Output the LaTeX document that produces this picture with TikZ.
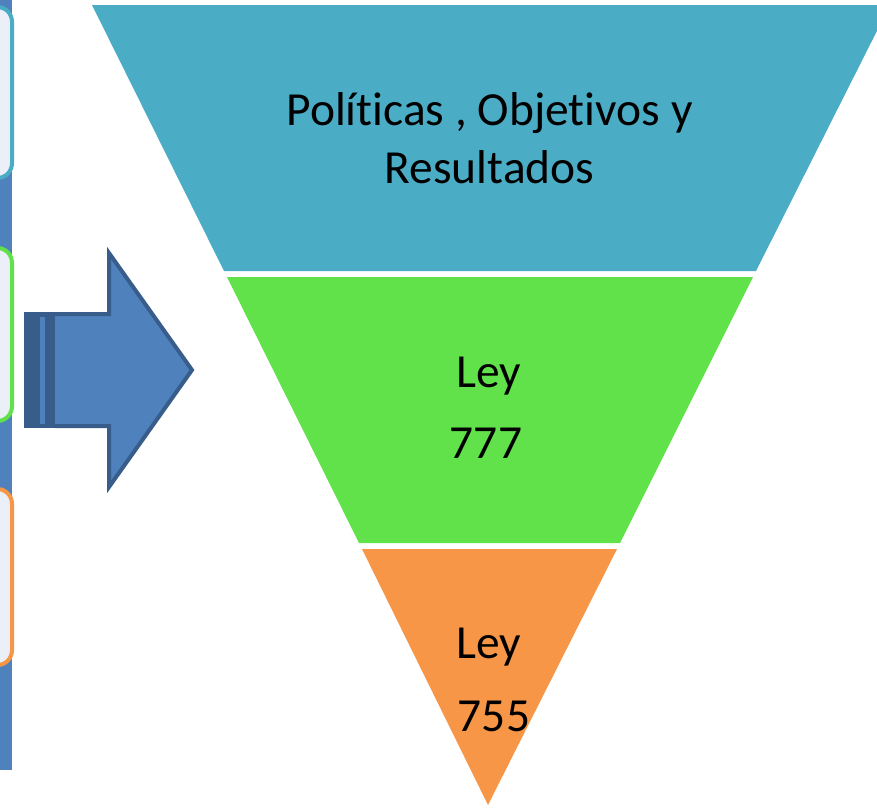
\documentclass[tikz,border=0pt]{standalone}
\usepackage{fontspec}
\setmainfont[Ligatures={NoCommon,NoRare}]{Carlito}
\definecolor{tealf}{HTML}{4BACC6}
\definecolor{greenf}{HTML}{61E24B}
\definecolor{orangef}{HTML}{F79646}
\definecolor{bluef}{HTML}{4F81BD}
\definecolor{bluedark}{HTML}{385D8A}
\definecolor{boxfill}{HTML}{EBF0F8}
\tikzset{
  lbl/.style={anchor=base,inner sep=0pt,font=\fontsize{35.6}{42}\selectfont,text=black},
  sidebox/.style={fill=boxfill,line width=3pt,rounded corners=11pt},
}
\begin{document}
\begin{tikzpicture}[x=0.75pt,y=-0.75pt]
\useasboundingbox (0,0) rectangle (877,807);
\begin{scope}
\clip (0,0) rectangle (877,807);
% left bar and boxes
\fill[bluef] (0,0) rectangle (12,770);
\draw[sidebox,draw=tealf] (-60,7) rectangle (12,178);
\draw[sidebox,draw=greenf] (-60,248) rectangle (12,421);
\draw[sidebox,draw=orangef] (-60,489) rectangle (12,665);
% striped arrow
\fill[bluedark] (24,312) rectangle (55,428);
\fill[bluef] (40,317) rectangle (45,424);
\draw[fill=bluef,draw=bluedark,line width=3pt,line join=miter]
  (55,314) -- (109,314) -- (109,253) -- (192,370) -- (109,487) -- (109,426) -- (55,426);
% funnel
\fill[tealf] (92,5) -- (890,5) -- (756,271) -- (224,271) -- cycle;
\fill[greenf] (227,277) -- (753,277) -- (620,543) -- (359,543) -- cycle;
\fill[orangef] (362,549) -- (617,549) -- (488,805) -- cycle;
\end{scope}
\node[lbl] (t1) at (489.5,125) {Políticas , Objetivos y};
\node[lbl] (t2) at (489.5,183) {Resultados};
\node[lbl] (g1) at (489,387) {Ley};
\node[lbl] (g2) at (486,458) {777};
\node[lbl] (o1) at (489,658) {Ley};
\node[lbl] (o2) at (494,731) {755};
\end{tikzpicture}
\end{document}
